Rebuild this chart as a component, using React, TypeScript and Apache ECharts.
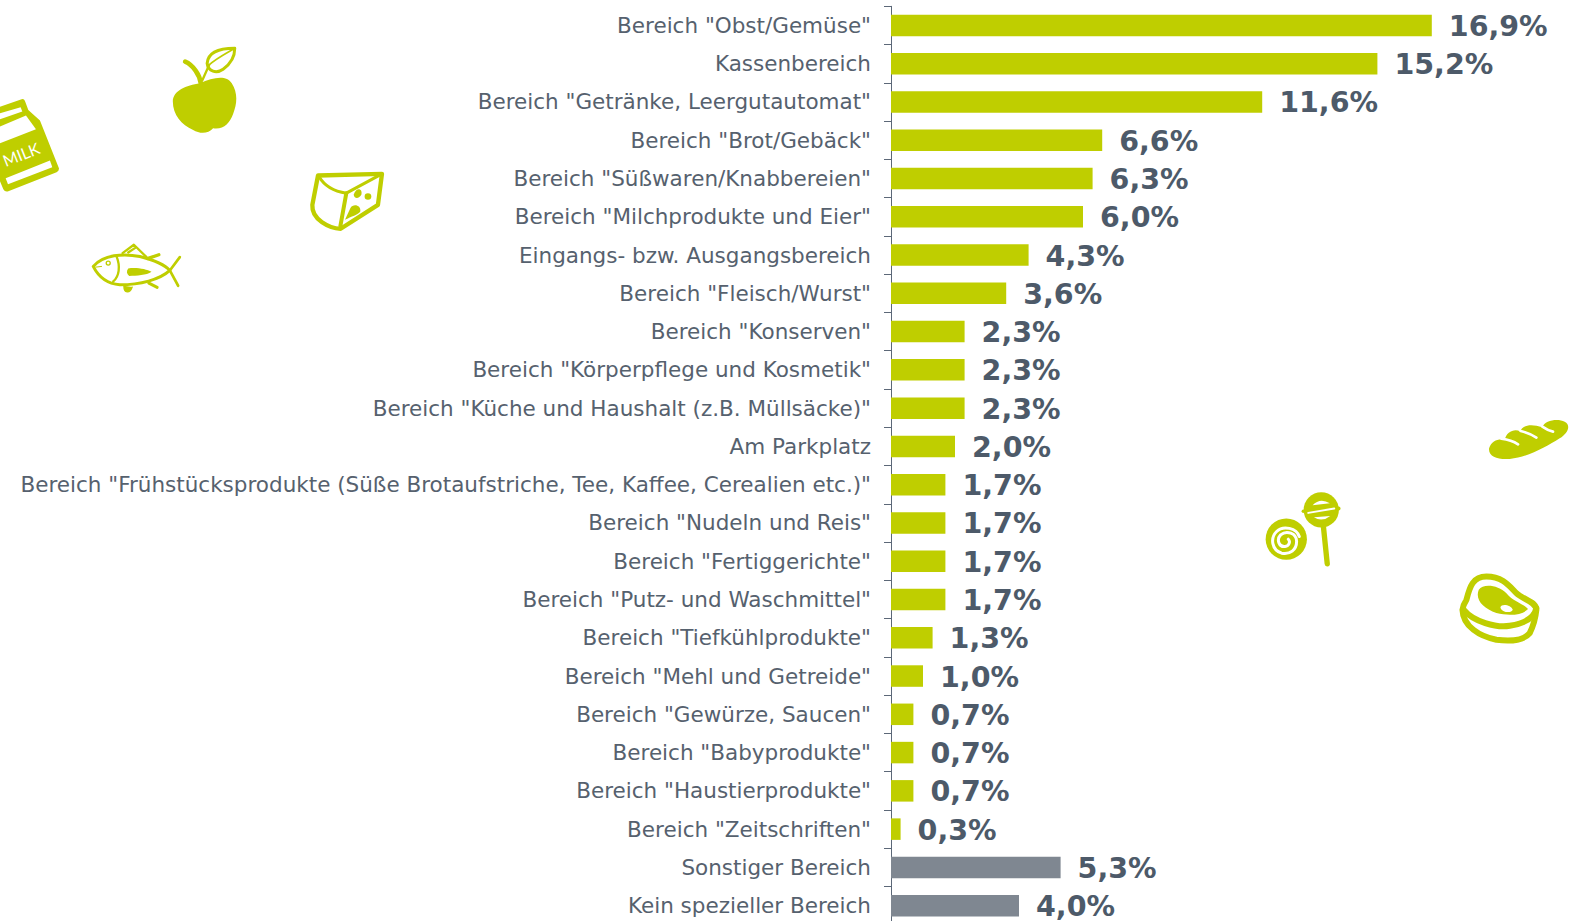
import React, { useEffect, useRef } from "react";
import * as echarts from "echarts";

const categories = [
  'Bereich "Obst/Gemüse"',
  "Kassenbereich",
  'Bereich "Getränke, Leergutautomat"',
  'Bereich "Brot/Gebäck"',
  'Bereich "Süßwaren/Knabbereien"',
  'Bereich "Milchprodukte und Eier"',
  "Eingangs- bzw. Ausgangsbereich",
  'Bereich "Fleisch/Wurst"',
  'Bereich "Konserven"',
  'Bereich "Körperpflege und Kosmetik"',
  'Bereich "Küche und Haushalt (z.B. Müllsäcke)"',
  "Am Parkplatz",
  'Bereich "Frühstücksprodukte (Süße Brotaufstriche, Tee, Kaffee, Cerealien etc.)"',
  'Bereich "Nudeln und Reis"',
  'Bereich "Fertiggerichte"',
  'Bereich "Putz- und Waschmittel"',
  'Bereich "Tiefkühlprodukte"',
  'Bereich "Mehl und Getreide"',
  'Bereich "Gewürze, Saucen"',
  'Bereich "Babyprodukte"',
  'Bereich "Haustierprodukte"',
  'Bereich "Zeitschriften"',
  "Sonstiger Bereich",
  "Kein spezieller Bereich",
];
const values = [16.9, 15.2, 11.6, 6.6, 6.3, 6.0, 4.3, 3.6, 2.3, 2.3, 2.3, 2.0, 1.7, 1.7, 1.7, 1.7, 1.3, 1.0, 0.7, 0.7, 0.7, 0.3, 5.3, 4.0];
const greyCategories = ["Sonstiger Bereich", "Kein spezieller Bereich"];

const GREEN = "#bfce00";
const GREY = "#7f8791";
const TEXT = "#56616e";
const VALUE_TEXT = "#4d5a69";
const WHITE = "#ffffff";

type Part = { d: string; fill?: string; stroke?: string; w?: number };
const circle = (cx: number, cy: number, r: number) =>
  `M${cx - r} ${cy}A${r} ${r} 0 1 0 ${cx + r} ${cy}A${r} ${r} 0 1 0 ${cx - r} ${cy}Z`;

const topLeftIcons: Part[] = [
  // apple
  { d: "M519 215C519 182 560 166 600 160C640 142 680 134 696 160C715 190 712 222 700 252C690 280 670 300 640 295C625 312 600 312 580 300C545 285 519 255 519 215Z", fill: GREEN },
  { d: "M556 95C580 105 600 135 603 160", stroke: GREEN, w: 14 },
  { d: "M608 150L628 105", stroke: GREEN, w: 7 },
  { d: "M705 55C660 55 625 65 622 100C625 125 650 132 670 118C695 100 705 75 705 55Z", stroke: GREEN, w: 9 },
  { d: "M628 105C650 85 680 70 705 55", stroke: GREEN, w: 5 },
  // milk
  { d: "M-5 232L65 208Q72 206 75 213L85 240L120 272L177 415Q178 423 170 427L25 484Q15 487 10 478L-10 430Z", fill: GREEN },
  { d: "M0 250L62 232L67 245L0 268Z", fill: WHITE },
  { d: "M0 290L78 257L108 298L0 340Z", fill: WHITE },
  { d: "M17 445L150 392L157 412L24 463Z", fill: WHITE },
  // cheese
  { d: "M955 437L1147 432L1135 525L1023 597C990 595 935 570 938 525Z", stroke: GREEN, w: 13 },
  { d: "M958 440C975 470 1005 485 1040 490L1147 432", stroke: GREEN, w: 9 },
  { d: "M1040 490L1022 590", stroke: GREEN, w: 12 },
  { d: circle(1105, 500, 10), fill: GREEN },
  { d: "M1062 495C1070 470 1090 475 1085 495C1080 505 1065 510 1062 495Z", fill: GREEN },
  { d: "M1036 570L1052 535C1060 520 1085 525 1082 545C1075 555 1055 560 1036 570Z", fill: GREEN },
  // fish
  { d: "M280 710C310 675 370 670 420 680C460 690 495 705 510 722C480 750 420 765 360 765C320 762 295 740 280 710Z", stroke: GREEN, w: 9 },
  { d: "M350 680C362 710 358 740 340 755", stroke: GREEN, w: 7 },
  { d: circle(325, 700, 6), stroke: GREEN, w: 4 },
  { d: "M510 722L540 682M510 722L535 768", stroke: GREEN, w: 8 },
  { d: "M368 670L402 645L440 682M385 668L405 655", stroke: GREEN, w: 7 },
  { d: "M445 686L477 675", stroke: GREEN, w: 10 },
  { d: "M385 716C410 712 440 718 455 726C440 737 410 737 388 739Q376 728 385 716Z", fill: GREEN },
  { d: "M372 768C372 792 390 792 397 772", fill: GREEN, stroke: GREEN, w: 4 },
  { d: "M447 760L472 773", stroke: GREEN, w: 9 },
  { d: "M288 712L305 710", stroke: GREEN, w: 3 },
];

const rightIcons: Part[] = [
  // bread
  { d: "M748 145C755 120 780 115 795 120C800 95 825 85 842 95C845 75 875 70 908 82C915 60 955 55 975 65C995 75 985 100 960 115C920 140 870 170 810 177C775 180 745 170 748 145Z", fill: GREEN },
  { d: "M785 116Q815 120 835 133M843 93Q870 100 890 113M908 80Q925 92 940 95", stroke: WHITE, w: 8 },
  // lollipop
  { d: "M250 375L262 492", stroke: GREEN, w: 16 },
  { d: circle(244, 330, 53), fill: GREEN },
  { d: circle(190, 334, 5), fill: GREEN },
  { d: circle(296, 326, 6), fill: GREEN },
  { d: "M218 316Q240 292 270 310Z", fill: WHITE },
  { d: "M205 339L283 326", stroke: WHITE, w: 6 },
  { d: "M222 352Q246 368 271 348Z", fill: WHITE },
  // candy
  { d: circle(139, 418, 62), fill: GREEN },
  { d: "M178 410C170 385 130 375 110 395C90 415 95 450 125 460C150 465 170 450 170 425C170 400 140 390 122 405C108 420 118 442 135 440C148 438 152 425 145 418", stroke: WHITE, w: 9 },
  // steak
  { d: "M680 600C690 560 700 530 740 530C790 530 810 560 830 580C850 600 890 605 890 630C888 650 880 680 870 700C850 725 810 725 770 720C720 710 670 680 668 630Q670 615 680 600Z", stroke: GREEN, w: 18 },
  { d: "M672 630C700 665 770 685 810 678C860 670 885 650 890 625", stroke: GREEN, w: 18 },
  { d: "M717 570C730 550 775 555 800 580C820 605 850 610 865 628C850 645 810 650 770 640C730 625 705 600 717 570Z", fill: GREEN },
  { d: "M782 622C785 610 815 615 819 630C815 642 785 638 782 622Z", fill: WHITE },
];

let registered = false;
function iconElements(parts: Part[], prefix: string, x: number, y: number) {
  return parts.map((p, i) => {
    const name = `${prefix}${i}`;
    if (!registered) echarts.graphic.registerShape(name, echarts.graphic.extendPath(p.d, {}));
    return {
      type: name,
      x,
      y,
      scaleX: 1 / 3,
      scaleY: 1 / 3,
      silent: true,
      z: 10,
      style: {
        fill: p.fill ?? "none",
        stroke: p.stroke ?? "none",
        lineWidth: p.w ?? 0,
        lineCap: "round",
        lineJoin: "round",
      },
    };
  });
}

export default function App() {
  const ref = useRef<HTMLDivElement>(null);
  useEffect(() => {
    document.body.style.margin = "0";
    const chart = echarts.init(ref.current!, null, { renderer: "svg" });
    const graphics = [
      ...iconElements(topLeftIcons, "tl", 0, 30),
      ...iconElements(rightIcons, "rt", 1240, 400),
      {
        type: "text",
        x: 21,
        y: 154,
        rotation: 0.38,
        silent: true,
        z: 11,
        style: {
          text: "MILK",
          fill: WHITE,
          font: "16px Lato",
          textAlign: "center",
          textVerticalAlign: "middle",
        },
      },
    ];
    registered = true;
    chart.setOption({
      animation: false,
      backgroundColor: "#ffffff",
      grid: { left: 891, top: 6.3, width: 640, height: 918.5, containLabel: false, outerBoundsMode: "none" },
      xAxis: { type: "value", min: 0, max: 20, show: false },
      yAxis: {
        type: "category",
        inverse: true,
        data: categories,
        axisLine: { show: true, lineStyle: { color: "#5c6878", width: 1 } },
        axisTick: { show: true, length: 7, alignWithLabel: false, lineStyle: { color: "#5c6878", width: 1 } },
        axisLabel: {
          show: true,
          interval: 0,
          margin: 20,
          color: TEXT,
          fontFamily: "DejaVu Sans",
          fontSize: 21.5,
        },
      },
      series: [
        {
          type: "bar",
          barWidth: 21.5,
          data: values.map((value, i) => ({
            value,
            itemStyle: { color: greyCategories.includes(categories[i]) ? GREY : GREEN },
          })),
          label: {
            show: true,
            position: "right",
            distance: 17,
            offset: [0, 1],
            color: VALUE_TEXT,
            fontFamily: "DejaVu Sans",
            fontWeight: "bold",
            fontSize: 28.5,
            formatter: (p: any) => `${p.value.toFixed(1).replace(".", ",")}%`,
          },
        },
      ],
      graphic: graphics,
    });
    return () => chart.dispose();
  }, []);
  return (
    <div
      ref={ref}
      style={{ position: "absolute", left: 0, top: 0, width: 1571, height: 921, overflow: "hidden" }}
    />
  );
}
